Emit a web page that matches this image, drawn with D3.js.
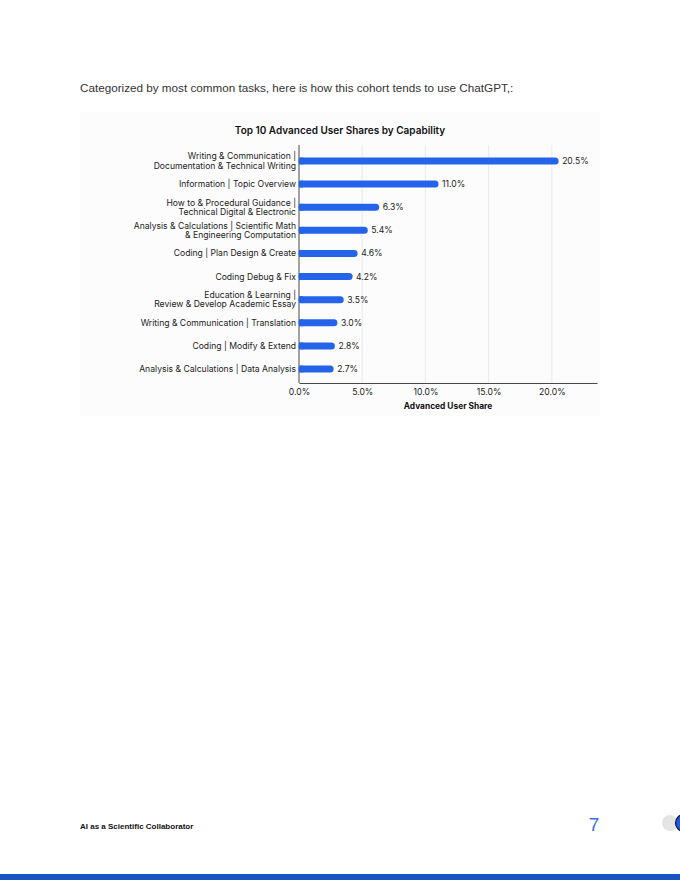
<!DOCTYPE html>
<html>
<head>
<meta charset="utf-8">
<script src="https://cdn.jsdelivr.net/npm/d3@7"></script>
<style>
  body { margin: 0; background: #fff; }
  svg { display: block; }
</style>
</head>
<body>
<svg id="page" width="680" height="880"></svg>
<script>
// capability labels, each entry is the lines of the label
const categories = [
    ["Writing & Communication |", "Documentation & Technical Writing"],
    ["Information | Topic Overview"],
    ["How to & Procedural Guidance |", "Technical Digital & Electronic"],
    ["Analysis & Calculations | Scientific Math", "& Engineering Computation"],
    ["Coding | Plan Design & Create"],
    ["Coding Debug & Fix"],
    ["Education & Learning |", "Review & Develop Academic Essay"],
    ["Writing & Communication | Translation"],
    ["Coding | Modify & Extend"],
    ["Analysis & Calculations | Data Analysis"]
];
const shares = [20.5, 11.0, 6.3, 5.4, 4.6, 4.2, 3.5, 3.0, 2.8, 2.7];
const xTicks = [0, 5, 10, 15, 20];

const svg = d3.select("#page");
const font = "Inter, 'Noto Sans', sans-serif";

// intro sentence
svg.append("text")
    .attr("x", 80)
    .attr("y", 92)
    .attr("font-family", "'Liberation Sans', Arial, sans-serif")
    .attr("font-size", 11.7)
    .attr("fill", "#333")
    .text("Categorized by most common tasks, here is how this cohort tends to use ChatGPT,:");

// chart panel
svg.append("rect")
    .attr("x", 80).attr("y", 112)
    .attr("width", 520).attr("height", 304)
    .attr("fill", "#fcfcfc");

const plotL = 299, plotR = 597, plotT = 145, plotB = 383;

const x = d3.scaleLinear()
    .domain([0, d3.max(shares) * 1.15])
    .range([plotL, plotR]);

const keys = categories.map(d => d.join(" "));
const y = d3.scalePoint()
    .domain(keys)
    .range([161, 369]);

const chart = svg.append("g").attr("font-family", font);

chart.append("text")
    .attr("x", 340)
    .attr("y", 134)
    .attr("text-anchor", "middle")
    .attr("font-size", 10)
    .attr("font-weight", 600)
    .attr("fill", "#111")
    .text("Top 10 Advanced User Shares by Capability");

// grid
chart.selectAll("line.grid")
    .data(xTicks.slice(1))
    .join("line")
    .attr("class", "grid")
    .attr("x1", d => x(d)).attr("x2", d => x(d))
    .attr("y1", plotT).attr("y2", plotB)
    .attr("stroke", "#e6e6e6")
    .attr("stroke-width", 0.8);

// x axis
const xAxis = chart.append("g")
    .attr("transform", `translate(0,${plotB})`)
    .call(d3.axisBottom(x).tickValues(xTicks).tickSize(0).tickPadding(6)
        .tickFormat(d => d.toFixed(1) + "%"));
xAxis.select(".domain").attr("stroke", "#333").attr("stroke-width", 0.9);
xAxis.selectAll("text")
    .attr("font-family", font)
    .attr("font-size", 8.6)
    .attr("fill", "#222");

// y axis line
chart.append("line")
    .attr("x1", plotL).attr("x2", plotL)
    .attr("y1", plotT).attr("y2", plotB)
    .attr("stroke", "#333")
    .attr("stroke-width", 0.9);

chart.append("text")
    .attr("x", (plotL + plotR) / 2)
    .attr("y", 409)
    .attr("text-anchor", "middle")
    .attr("font-size", 8.4)
    .attr("font-weight", 700)
    .attr("fill", "#111")
    .text("Advanced User Share");

// bars
const rows = chart.selectAll("g.row")
    .data(categories.map((c, i) => ({lines: c, key: keys[i], value: shares[i]})))
    .join("g")
    .attr("class", "row")
    .attr("transform", d => `translate(0,${y(d.key)})`);

rows.append("line")
    .attr("x1", x(0) + 3)
    .attr("x2", d => x(d.value) - 3)
    .attr("stroke", "#2563eb")
    .attr("stroke-width", 7)
    .attr("stroke-linecap", "round");

rows.append("rect")
    .attr("x", x(0))
    .attr("y", -3.5)
    .attr("width", 4)
    .attr("height", 7)
    .attr("fill", "#2563eb");

rows.append("text")
    .attr("x", d => x(d.value) + 4)
    .attr("dy", "0.35em")
    .attr("font-size", 8.6)
    .attr("fill", "#222")
    .text(d => d.value.toFixed(1) + "%");

rows.append("text")
    .attr("x", plotL - 3)
    .attr("text-anchor", "end")
    .attr("font-size", 8.6)
    .attr("fill", "#222")
    .selectAll("tspan")
    .data(d => d.lines.map((t, i) => ({t, i, n: d.lines.length})))
    .join("tspan")
    .attr("x", plotL - 3)
    .attr("y", d => (d.i - (d.n - 1) / 2) * 9.2)
    .attr("dy", "0.35em")
    .text(d => d.t);

// footer
svg.append("text")
    .attr("x", 80)
    .attr("y", 829)
    .attr("font-family", "'Liberation Sans Narrow', 'Liberation Sans', Arial, sans-serif")
    .attr("font-size", 8)
    .attr("font-weight", 700)
    .attr("fill", "#111")
    .text("AI as a Scientific Collaborator");

svg.append("text")
    .attr("x", 594)
    .attr("y", 831)
    .attr("text-anchor", "middle")
    .attr("font-family", "'Liberation Sans', Arial, sans-serif")
    .attr("font-size", 19)
    .attr("font-weight", 300)
    .attr("fill", "#3a6fe0")
    .text("7");

svg.append("circle")
    .attr("cx", 670).attr("cy", 823).attr("r", 8)
    .attr("fill", "#e4e4e4");
svg.append("circle")
    .attr("cx", 684).attr("cy", 823).attr("r", 8.5)
    .attr("fill", "#1f5ad8")
    .attr("stroke", "#0b1a3a")
    .attr("stroke-width", 1.2);

svg.append("rect")
    .attr("x", 0).attr("y", 874)
    .attr("width", 680).attr("height", 6)
    .attr("fill", "#1a55c0");
</script>
</body>
</html>
